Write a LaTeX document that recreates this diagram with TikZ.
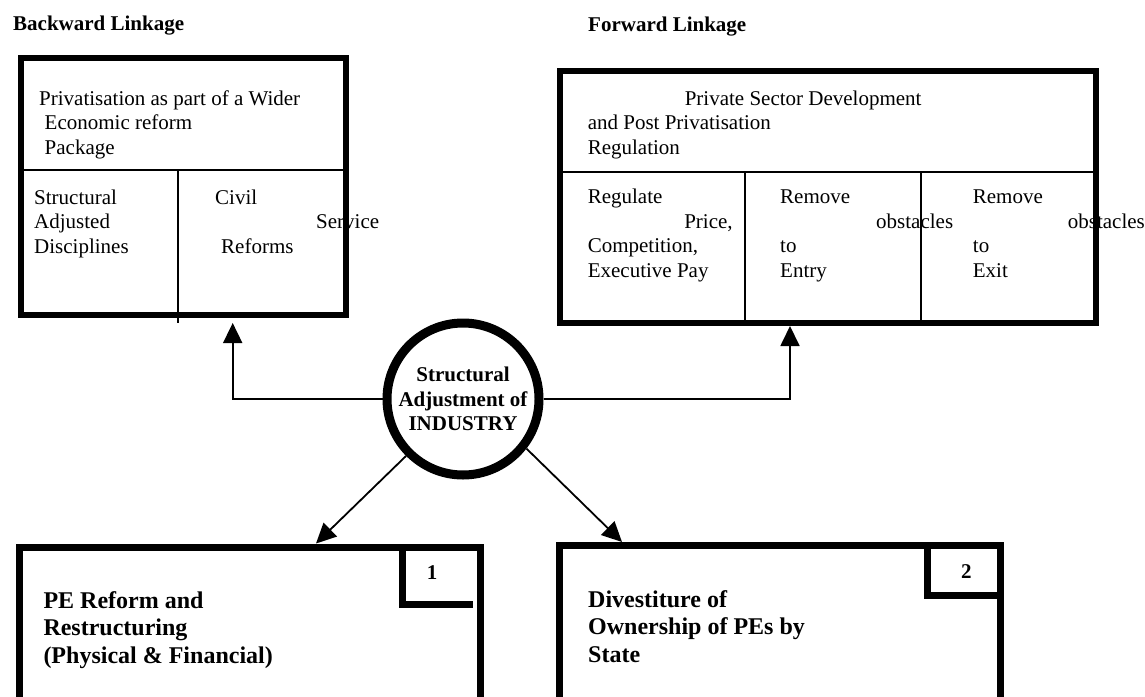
\documentclass[tikz,border=0pt]{standalone}
\usepackage{fontspec}
\setmainfont{Liberation Serif}
\usetikzlibrary{arrows.meta,positioning}

\begin{document}
\begin{tikzpicture}[x=1pt, y=-1pt,
    every node/.style={font=\fontsize{21}{24.7}\selectfont, inner sep=0pt},
    txt/.style={anchor=base west, align=left},
    head/.style={anchor=base west, font=\fontsize{21}{24.7}\selectfont\bfseries},
    big/.style={anchor=base west, align=left, font=\fontsize{24}{27.5}\selectfont\bfseries},
    frame/.style={draw, line width=6pt},
    heavy/.style={draw, line width=7pt},
    thin/.style={line width=2pt},
    arr/.style={line width=1.8pt, -{Triangle[length=20pt, width=19pt]}}]
  \useasboundingbox (0,0) rectangle (1145,696);

  \node[head] (bl) at (13,30.7) {Backward Linkage};
  \node[head] (fl) at (588,31) {Forward Linkage};

  \node[txt] (pkg) at (39,154.4) {Privatisation as part of a Wider\\\hspace*{5.5pt}Economic reform\\\hspace*{5.5pt}Package};
  \node[txt] (sad) at (34,253.4) {Structural\\Adjusted\\Disciplines};
  \node[txt] (csr) at (215,253.4) {Civil\\\hspace*{101pt}Service\\\hspace*{6pt}Reforms};

  \node[txt] (psd) at (587.6,154.4) {\hspace*{97pt}Private Sector Development\\and Post Privatisation\\Regulation};
  \node[txt] (reg) at (587.6,277.4) {Regulate\\\hspace*{96.5pt}Price,\\Competition,\\Executive Pay};
  \node[txt] (ent) at (780,277.4) {Remove\\\hspace*{96pt}obstacles\\to\\Entry};
  \node[txt] (ext) at (972.7,277.4) {Remove\\\hspace*{95pt}obstacles\\to\\Exit};

  \node[frame, minimum width=325.5pt, minimum height=256.5pt] (back) at (183.25,186.25) {};
  \draw[thin] (20.5,169.5) -- (346,169.5) (178,169.5) -- (178,323);
  \node[frame, minimum width=536pt, minimum height=252pt] (fwd) at (828,197) {};
  \draw[thin] (560,171.5) -- (1096,171.5) (745,171.5) -- (745,323) (921,171.5) -- (921,323);

  \node[draw, circle, line width=9pt, minimum size=152pt, align=center,
        font=\fontsize{21}{24.5}\selectfont\bfseries] (sai) at (463,399) {Structural\\Adjustment of\\INDUSTRY};

  \node[big] (per) at (43.3,663) {PE Reform and\\Restructuring\\(Physical \& Financial)};
  \node[big] (dos) at (588,662) {Divestiture of\\Ownership of PEs by\\State};
  \node[heavy, minimum width=461pt, minimum height=173pt] (pe) at (250.2,633.5) {};
  \node[heavy, minimum width=440.6pt, minimum height=174.5pt] (div) at (780,632.75) {};
  \draw[line width=7pt] (402.5,547) -- (402.5,604.7) -- (473.3,604.7);
  \draw[line width=7pt] (927.5,545.5) -- (927.5,595) -- (1000.3,595);
  \node[head] (n1) at (426.7,579) {1};
  \node[head] (n2) at (961,578) {2};

  \coordinate (lup) at (232.7,323);
  \coordinate (rup) at (790,0);
  \coordinate (ldn) at (316,0);
  \coordinate (rdn) at (622,0);
  \draw[arr] (sai.west) -| (lup);
  \draw[arr] (sai.east) -| (fwd.south -| rup);
  \draw[arr] (sai.-135) -- (pe.north -| ldn);
  \draw[arr] (sai.-38) -- (div.north -| rdn);
\end{tikzpicture}
\end{document}
